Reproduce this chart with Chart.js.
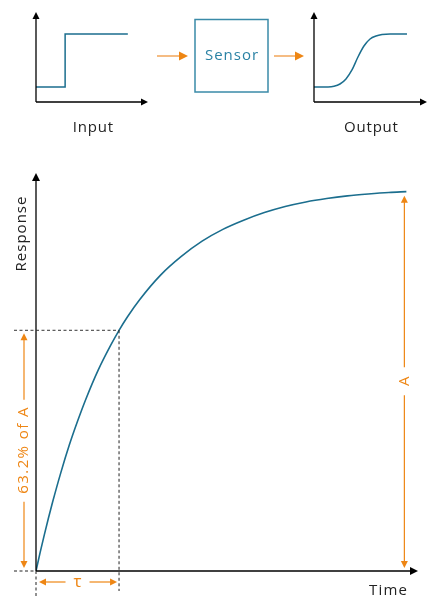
<!DOCTYPE html>
<html lang="en">
<head>
    <meta charset="UTF-8">
    <title>Sensor time constant</title>
    <script src="https://cdn.jsdelivr.net/npm/chart.js"></script>
    <style>
        body {
            margin: 0;
            background: #fff;
            font-family: 'Open Sans', sans-serif;
        }
        .wrap {
            position: relative;
            width: 433px;
            height: 597px;
        }
        canvas {
            position: absolute;
        }
        #mainChart { left: 0; top: 0; }
        #inputChart { left: 0; top: 0; }
        #outputChart { left: 290px; top: 0; }
    </style>
</head>
<body>
<div class="wrap">
    <canvas id="mainChart" width="433" height="597"></canvas>
    <canvas id="inputChart" width="160" height="140"></canvas>
    <canvas id="outputChart" width="143" height="140"></canvas>
</div>

<script>
    // main response curve (time in units of tau, response as fraction of A)
    const timeVals = [0, 0.05, 0.1, 0.15, 0.2, 0.3, 0.4, 0.5, 0.6, 0.75, 0.9, 1, 1.1, 1.25, 1.5, 1.75, 2, 2.25, 2.5, 2.75, 3, 3.25, 3.5, 3.75, 4, 4.25, 4.46];
    const respVals = [0, 0.049, 0.095, 0.139, 0.181, 0.259, 0.33, 0.393, 0.451, 0.528, 0.593, 0.632, 0.667, 0.713, 0.777, 0.826, 0.866, 0.897, 0.921, 0.941, 0.957, 0.969, 0.978, 0.985, 0.99, 0.994, 0.996];
    const tau = 1;
    const tauLevel = 0.632;

    // small input step
    const inputX = [0, 0.26, 0.26, 0.82];
    const inputY = [0.167, 0.167, 0.756, 0.756];

    // small output response
    const outputX = [0, 0.124, 0.177, 0.23, 0.283, 0.336, 0.389, 0.442, 0.496, 0.549, 0.602, 0.673, 0.823];
    const outputY = [0.167, 0.167, 0.174, 0.2, 0.256, 0.356, 0.5, 0.622, 0.7, 0.733, 0.749, 0.756, 0.756];

    const TEAL = '#1b6e8e';
    const ORANGE = '#ee8614';
    const INK = '#222222';
    const FONT = "'Open Sans', sans-serif";

    function arrowHead(ctx, x, y, dir, len, half, color) {
        // x,y is the tip
        ctx.save();
        ctx.fillStyle = color;
        ctx.beginPath();
        ctx.moveTo(x, y);
        if (dir === 'up') { ctx.lineTo(x - half, y + len); ctx.lineTo(x + half, y + len); }
        if (dir === 'down') { ctx.lineTo(x - half, y - len); ctx.lineTo(x + half, y - len); }
        if (dir === 'right') { ctx.lineTo(x - len, y - half); ctx.lineTo(x - len, y + half); }
        if (dir === 'left') { ctx.lineTo(x + len, y - half); ctx.lineTo(x + len, y + half); }
        ctx.closePath();
        ctx.fill();
        ctx.restore();
    }

    function line(ctx, x1, y1, x2, y2, color, width, dash) {
        ctx.save();
        ctx.strokeStyle = color;
        ctx.lineWidth = width;
        ctx.setLineDash(dash || []);
        ctx.beginPath();
        ctx.moveTo(x1, y1);
        ctx.lineTo(x2, y2);
        ctx.stroke();
        ctx.restore();
    }

    function text(ctx, str, x, y, size, color, rotate, spacing) {
        ctx.save();
        ctx.translate(x, y);
        if (rotate) ctx.rotate(-Math.PI / 2);
        ctx.font = size + 'px ' + FONT;
        ctx.letterSpacing = (spacing || 0) + 'px';
        ctx.fillStyle = color;
        ctx.textAlign = 'center';
        ctx.textBaseline = 'middle';
        ctx.fillText(str, (spacing || 0) / 2, 0);
        ctx.restore();
    }

    // axes with arrow tips at the ends of the chart area
    const axesPlugin = {
        id: 'axesArrows',
        afterDatasetsDraw(chart, args, opts) {
            const ctx = chart.ctx;
            const a = chart.chartArea;
            const len = opts.len, half = opts.half;
            line(ctx, a.left, a.bottom, a.left, a.top + len - 1, '#000', 1.3);
            line(ctx, a.left, a.bottom, a.right - len + 1, a.bottom, '#000', 1.3);
            arrowHead(ctx, a.left, a.top, 'up', len, half, '#000');
            arrowHead(ctx, a.right, a.bottom, 'right', len, half, '#000');
        }
    };

    const annotPlugin = {
        id: 'annot',
        afterDatasetsDraw(chart) {
            const ctx = chart.ctx;
            const a = chart.chartArea;
            const xs = chart.scales.x, ys = chart.scales.y;
            const px = xs.getPixelForValue(tau);
            const py = ys.getPixelForValue(tauLevel);
            const y0 = ys.getPixelForValue(0);
            const x0 = xs.getPixelForValue(0);
            const xEnd = xs.getPixelForValue(timeVals[timeVals.length - 1]) - 2;
            const yEnd = ys.getPixelForValue(respVals[respVals.length - 1]);
            const dash = [3, 2.5];

            // dashed guides
            line(ctx, x0 - 22, py, px, py, '#333', 1, dash);
            line(ctx, px, py, px, y0 + 20, '#222', 1, dash);
            line(ctx, x0 - 22, y0, x0, y0, '#222', 1, dash);
            line(ctx, x0, y0, x0, y0 + 25, '#222', 1, dash);

            // 63.2% of A
            const ax = x0 - 12;
            const mid = (py + y0) / 2;
            line(ctx, ax, py + 8, ax, mid - 51, ORANGE, 1.2);
            line(ctx, ax, mid + 51, ax, y0 - 8, ORANGE, 1.2);
            arrowHead(ctx, ax, py + 3, 'up', 7, 3.5, ORANGE);
            arrowHead(ctx, ax, y0 - 3, 'down', 7, 3.5, ORANGE);
            text(ctx, '63.2% of A', ax, mid, 15, ORANGE, true, 1.4);

            // tau
            const ty = y0 + 11;
            const tmid = (x0 + px) / 2;
            line(ctx, x0 + 8, ty, tmid - 12, ty, ORANGE, 1.2);
            line(ctx, tmid + 12, ty, px - 8, ty, ORANGE, 1.2);
            arrowHead(ctx, x0 + 3, ty, 'left', 7, 3.5, ORANGE);
            arrowHead(ctx, px - 2, ty, 'right', 7, 3.5, ORANGE);
            text(ctx, 'τ', tmid, ty, 17, ORANGE, false);

            // A
            const amid = (yEnd + y0) / 2;
            line(ctx, xEnd, yEnd + 9, xEnd, amid - 14, ORANGE, 1.2);
            line(ctx, xEnd, amid + 14, xEnd, y0 - 8, ORANGE, 1.2);
            arrowHead(ctx, xEnd, yEnd + 4, 'up', 7, 3.5, ORANGE);
            arrowHead(ctx, xEnd, y0 - 3, 'down', 7, 3.5, ORANGE);
            text(ctx, 'A', xEnd, amid, 15, ORANGE, true, 0.5);

            // axis titles
            text(ctx, 'Response', a.left - 14, 234, 15, INK, true, 1);
            text(ctx, 'Time', 388, 591, 15, INK, false, 1.2);

            // top diagram: sensor block and arrows
            ctx.save();
            ctx.strokeStyle = '#3a8aa8';
            ctx.lineWidth = 1.5;
            ctx.strokeRect(195, 19.5, 73, 72.5);
            ctx.restore();
            text(ctx, 'Sensor', 231.5, 56, 15, '#2a82a4', false, 1);
            line(ctx, 157, 56, 180, 56, '#f2a65a', 1.5);
            arrowHead(ctx, 188, 56, 'right', 9, 4.5, ORANGE);
            line(ctx, 274, 56, 296, 56, '#f2a65a', 1.5);
            arrowHead(ctx, 304, 56, 'right', 9, 4.5, ORANGE);
            text(ctx, 'Input', 93, 128, 15, INK, false, 0.8);
            text(ctx, 'Output', 371, 128, 15, INK, false, 0.8);
        }
    };

    const hidden = { display: false };

    new Chart(document.getElementById('mainChart'), {
        type: 'line',
        data: {
            datasets: [{
                data: timeVals.map((t, i) => ({ x: t, y: respVals[i] })),
                borderColor: TEAL,
                borderWidth: 1.6,
                pointRadius: 0,
                cubicInterpolationMode: 'monotone',
                fill: false
            }]
        },
        options: {
            responsive: false,
            animation: false,
            layout: { padding: { left: 36, right: 15, top: 173, bottom: 26 } },
            plugins: { legend: hidden, tooltip: { enabled: false }, axesArrows: { len: 8, half: 4 } },
            scales: {
                x: { type: 'linear', min: 0, max: 4.6, display: false },
                y: { min: 0, max: 1.045, display: false }
            }
        },
        plugins: [axesPlugin, annotPlugin]
    });

    function smallChart(id, xs, ys, stepped, pad) {
        new Chart(document.getElementById(id), {
            type: 'line',
            data: {
                datasets: [{
                    data: xs.map((x, i) => ({ x: x, y: ys[i] })),
                    borderColor: TEAL,
                    borderWidth: 1.5,
                    pointRadius: 0,
                    cubicInterpolationMode: stepped ? 'default' : 'monotone',
                    tension: 0,
                    fill: false
                }]
            },
            options: {
                responsive: false,
                animation: false,
                layout: { padding: pad },
                plugins: { legend: hidden, tooltip: { enabled: false }, axesArrows: { len: 7, half: 3.5 } },
                scales: {
                    x: { type: 'linear', min: 0, max: 1, display: false },
                    y: { min: 0, max: 1, display: false }
                }
            },
            plugins: [axesPlugin]
        });
    }

    smallChart('inputChart', inputX, inputY, true, { left: 36, right: 12, top: 12, bottom: 38 });
    smallChart('outputChart', outputX, outputY, false, { left: 24, right: 6, top: 12, bottom: 38 });
</script>
</body>
</html>
